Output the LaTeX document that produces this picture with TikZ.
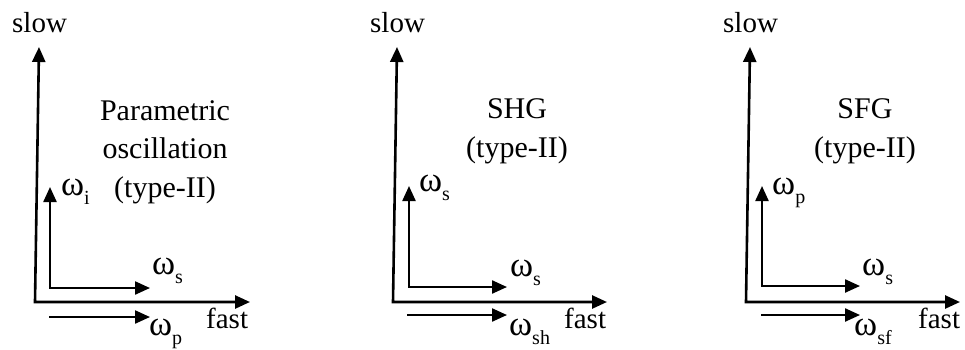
\documentclass[tikz,border=0pt]{standalone}
\usepackage{fontspec}
\setmainfont{Liberation Serif}
\usetikzlibrary{arrows.meta}
\newcommand{\omsub}[1]{{\fontsize{35}{35}\selectfont ω}\raisebox{-0.34em}{\fontsize{20}{20}\selectfont #1}}
\begin{document}
\begin{tikzpicture}[x=1pt,y=-1pt,
  lbl/.style={anchor=base west,inner sep=0pt,font=\fontsize{29}{38}\selectfont},
  ttl/.style={anchor=base,inner sep=0pt,align=center,font=\fontsize{30}{38.5}\selectfont},
  axis/.style={line width=2.6pt,{Triangle[length=15pt,width=13pt]}-{Triangle[length=15pt,width=13pt]}},
  vec/.style={line width=2.3pt,-{Triangle[length=15pt,width=13pt]}},
  vec2/.style={line width=2.3pt,{Triangle[length=15pt,width=13pt]}-{Triangle[length=15pt,width=13pt]}}]
\useasboundingbox (0,0) rectangle (965,349);
% ---------- panel 1
\coordinate (o1) at (35,302);
\coordinate (v1) at (39,47);
\coordinate (h1) at (250,302);
\coordinate (so1) at (50,288);
\coordinate (sv1) at (50,187);
\coordinate (sh1) at (150,288);
\coordinate (ba1) at (49,317);
\coordinate (bb1) at (150,317);
\draw[axis] (v1) -- (o1) -- (h1);
\draw[vec2] (sv1) -- (so1) -- (sh1);
\draw[vec] (ba1) -- (bb1);
\node[lbl] (slow1) at (12,32) {slow};
\node[lbl] (fast1) at (206,328) {fast};
\node[ttl] (t1) at (165,197) {Parametric\\oscillation\\(type-II)};
\node[lbl] (wi1) at (61,195) {\omsub{i}};
\node[lbl] (ws1) at (152,274) {\omsub{s}};
\node[lbl] (wp1) at (149,335) {\omsub{p}};
% ---------- panel 2
\coordinate (o2) at (393,302);
\coordinate (v2) at (397,47);
\coordinate (h2) at (607,302);
\coordinate (so2) at (409,287);
\coordinate (sv2) at (409,186);
\coordinate (sh2) at (507,287);
\coordinate (ba2) at (407,315);
\coordinate (bb2) at (507,315);
\draw[axis] (v2) -- (o2) -- (h2);
\draw[vec2] (sv2) -- (so2) -- (sh2);
\draw[vec] (ba2) -- (bb2);
\node[lbl] (slow2) at (370,32) {slow};
\node[lbl] (fast2) at (564,328) {fast};
\node[ttl] (t2) at (517,157) {SHG\\(type-II)};
\node[lbl] (ws2a) at (419,191) {\omsub{s}};
\node[lbl] (ws2b) at (510,276) {\omsub{s}};
\node[lbl] (wsh2) at (509,335) {\omsub{sh}};
% ---------- panel 3
\coordinate (o3) at (746,302);
\coordinate (v3) at (750,47);
\coordinate (h3) at (960,302);
\coordinate (so3) at (762,286);
\coordinate (sv3) at (762,186);
\coordinate (sh3) at (860,286);
\coordinate (ba3) at (761,315);
\coordinate (bb3) at (860,315);
\draw[axis] (v3) -- (o3) -- (h3);
\draw[vec2] (sv3) -- (so3) -- (sh3);
\draw[vec] (ba3) -- (bb3);
\node[lbl] (slow3) at (723,32) {slow};
\node[lbl] (fast3) at (918,328) {fast};
\node[ttl] (t3) at (865,157) {SFG\\(type-II)};
\node[lbl] (wp3) at (772,194) {\omsub{p}};
\node[lbl] (ws3) at (862,275) {\omsub{s}};
\node[lbl] (wsf3) at (854,335) {\omsub{sf}};
\end{tikzpicture}
\end{document}
